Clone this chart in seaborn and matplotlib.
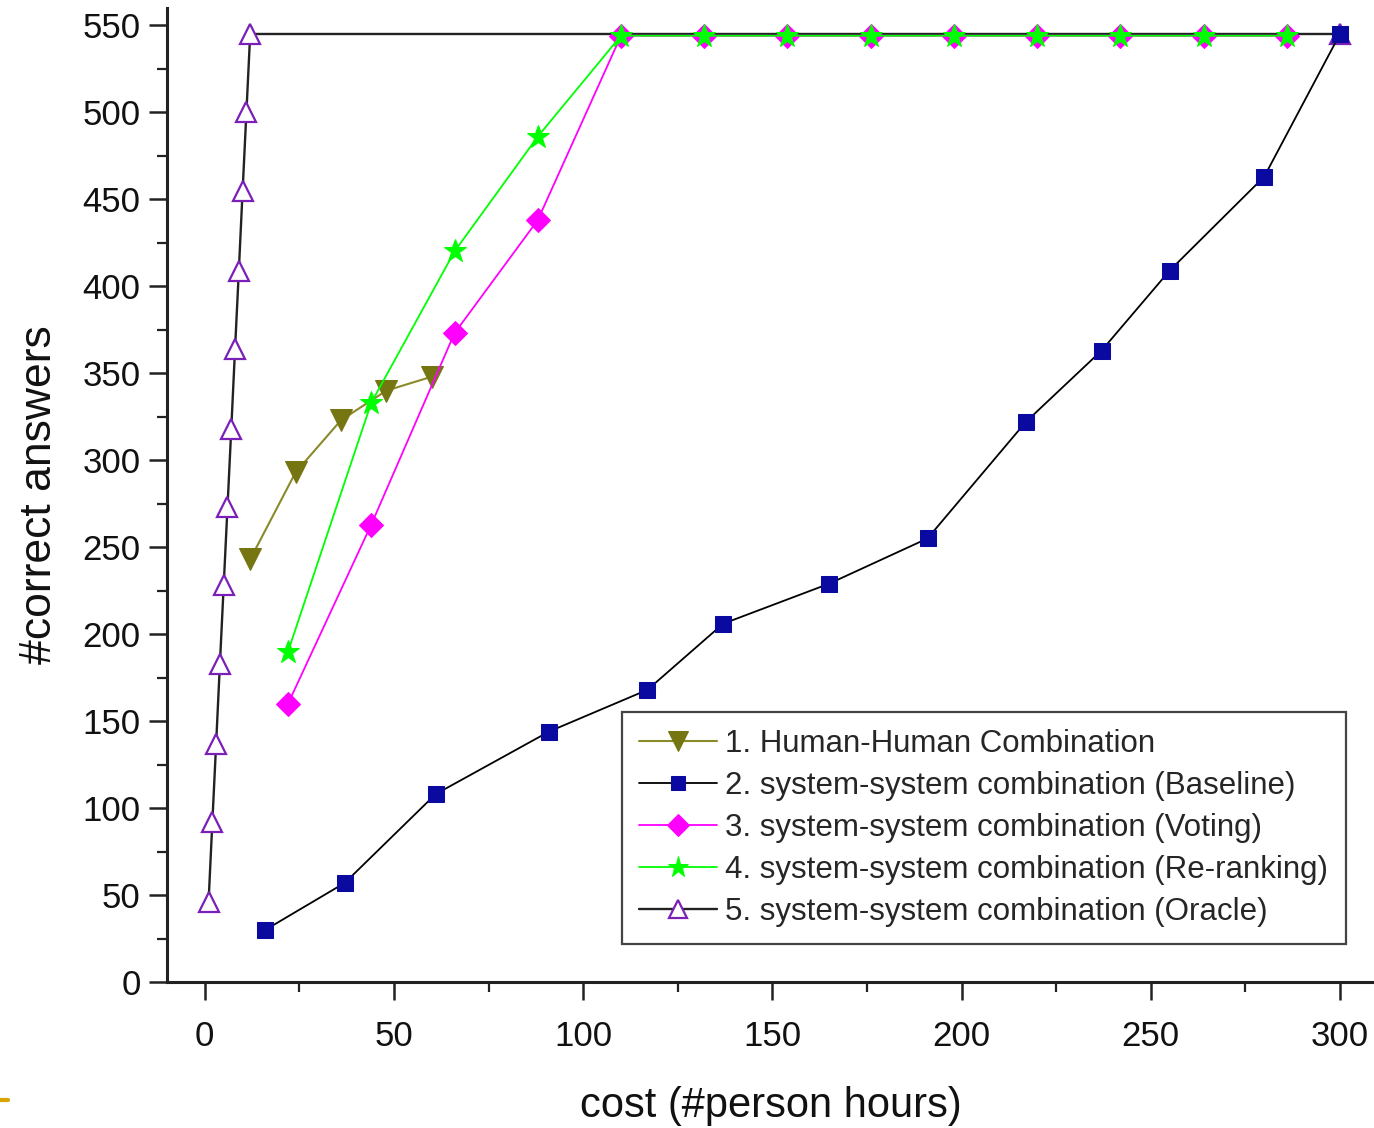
import numpy as np
import pandas as pd
import matplotlib
matplotlib.use("Agg")
import matplotlib.pyplot as plt
from matplotlib.ticker import MultipleLocator
from matplotlib.lines import Line2D
import seaborn as sns

# ----- data ----------------------------------------------------------------
human_x = [12, 24, 36, 48, 60]
human_y = [243, 293, 323, 340, 348]

baseline_x = [16, 37, 61, 91, 117, 137, 165, 191, 217, 237, 255, 280, 300]
baseline_y = [30, 57, 108, 144, 168, 206, 229, 255, 322, 363, 409, 463, 545]

voting_x = [22, 44, 66, 88, 110, 132, 154, 176, 198, 220, 242, 264, 286]
voting_y = [160, 263, 373, 438, 544, 544, 544, 544, 544, 544, 544, 544, 544]

rerank_x = [22, 44, 66, 88, 110, 132, 154, 176, 198, 220, 242, 264, 286]
rerank_y = [190, 333, 420, 486, 544, 544, 544, 544, 544, 544, 544, 544, 544]

oracle_x = [1, 2, 3, 4, 5, 6, 7, 8, 9, 10, 11, 12, 300]
oracle_y = [46, 92, 137, 183, 228, 273, 318, 364, 409, 455, 500, 545, 545]

labels = ["1. Human-Human Combination",
          "2. system-system combination (Baseline)",
          "3. system-system combination (Voting)",
          "4. system-system combination (Re-ranking)",
          "5. system-system combination (Oracle)"]

sns.set_theme(style="ticks")
plt.rcParams['font.family'] = ['Liberation Sans', 'DejaVu Sans']

fig = plt.figure(figsize=(13.74, 11.28), dpi=100)
ax = fig.add_axes([0.1215, 0.1294, 0.8785, 0.8636])

# ----- series ---------------------------------------------------------------
sns.lineplot(x=oracle_x, y=oracle_y, ax=ax, sort=False, estimator=None,
             color='#222222', lw=1.7, marker='^', markersize=15,
             markerfacecolor='white', markeredgecolor='#7a1fb8',
             markeredgewidth=1.6, zorder=2)
sns.lineplot(x=baseline_x, y=baseline_y, ax=ax, sort=False, estimator=None,
             color='black', lw=1.3, marker='s', markersize=11,
             markerfacecolor='#0a0aa0', markeredgecolor='#0a0aa0', zorder=3)
sns.lineplot(x=human_x, y=human_y, ax=ax, sort=False, estimator=None,
             color='#8a8a2a', lw=1.5, marker='v', markersize=16,
             markerfacecolor='#757512', markeredgecolor='#757512', zorder=3)
sns.lineplot(x=voting_x, y=voting_y, ax=ax, sort=False, estimator=None,
             color='#ff00ff', lw=1.3, marker='D', markersize=12,
             markerfacecolor='#ff00ff', markeredgecolor='#ff00ff', zorder=4)
sns.lineplot(x=rerank_x, y=rerank_y, ax=ax, sort=False, estimator=None,
             color='#00ff00', lw=1.3, marker='*', markersize=17,
             markerfacecolor='#00ff00', markeredgecolor='#00ff00', zorder=5)

# ----- axes -----------------------------------------------------------------
ax.set_xlim(-10, 309)
ax.set_ylim(0, 560)
ax.xaxis.set_major_locator(MultipleLocator(50))
ax.xaxis.set_minor_locator(MultipleLocator(25))
ax.yaxis.set_major_locator(MultipleLocator(50))
ax.yaxis.set_minor_locator(MultipleLocator(25))
ax.tick_params(which='major', direction='out', length=13, width=1.8,
               labelsize=25, color='#222222', labelcolor='#111111')
ax.tick_params(axis='x', which='major', pad=14)
ax.tick_params(axis='y', which='major', pad=6)
ax.tick_params(which='minor', direction='out', length=7, width=1.6,
               color='#222222')
sns.despine(ax=ax, top=True, right=True)
for s in ['left', 'bottom']:
    ax.spines[s].set_linewidth(2.2)
    ax.spines[s].set_color('#222222')

ax.set_xlabel("cost (#person hours)", fontsize=30, labelpad=24, color='#111111')
ax.set_ylabel("#correct answers", fontsize=32, labelpad=16, color='#111111')

# ----- legend ---------------------------------------------------------------
h = ax.get_lines()
order = [h[2], h[1], h[3], h[4], h[0]]
leg = ax.legend(order, labels, loc='lower left',
                bbox_to_anchor=(0.377, 0.039), borderaxespad=0,
                fontsize=22.5, frameon=True, fancybox=False, framealpha=1,
                edgecolor='#444444', handlelength=2.5, handletextpad=0.26,
                labelspacing=0.38, borderpad=0.55, markerscale=0.9)
leg.get_frame().set_linewidth(1.6)

# small mark at lower left of the original slide
fig.add_artist(Line2D([0, 0.006], [0.025, 0.025], color='#d9a400', lw=3))

fig.savefig("out.png", dpi=100)
